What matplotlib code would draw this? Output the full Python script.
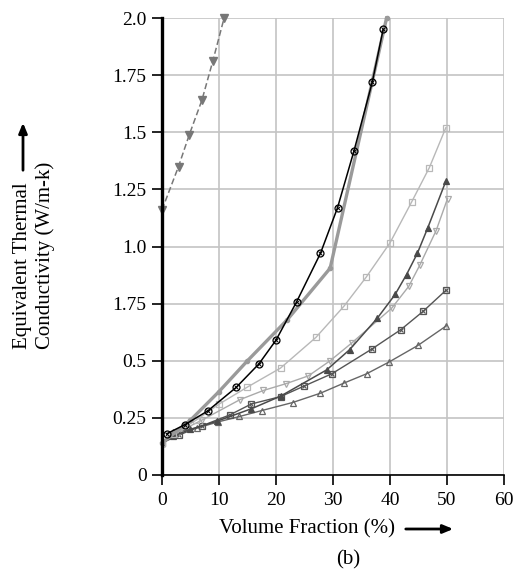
import matplotlib
matplotlib.use("Agg")
import matplotlib.pyplot as plt

plt.rcParams['font.family'] = ['Liberation Serif', 'DejaVu Serif']

# curves (volume fraction %, conductivity W/m-k)
x_steep = [0, 2.9, 4.8, 7.0, 8.9, 10.9]
y_steep = [1.16, 1.35, 1.49, 1.64, 1.81, 2.0]

x_circ = [0.8, 4, 8, 13, 17, 20, 23.6, 27.8, 30.8, 33.7, 36.9, 38.8]
y_circ = [0.18, 0.22, 0.28, 0.383, 0.486, 0.59, 0.757, 0.97, 1.17, 1.42, 1.72, 1.95]

x_thick = [0, 5, 10, 15, 22, 29.5, 39.4]
y_thick = [0.14, 0.24, 0.365, 0.50, 0.68, 0.905, 2.0]

x_lsq = [0, 2, 6, 10, 15, 20.8, 27, 31.9, 35.8, 40, 43.8, 46.9, 49.8]
y_lsq = [0.14, 0.18, 0.24, 0.31, 0.385, 0.468, 0.602, 0.738, 0.865, 1.016, 1.195, 1.345, 1.52]

x_ftri = [0, 2, 5, 9.6, 15.7, 20.8, 28.9, 32.9, 37.8, 40.9, 42.9, 44.8, 46.6, 49.8]
y_ftri = [0.14, 0.17, 0.2, 0.235, 0.29, 0.345, 0.46, 0.548, 0.687, 0.79, 0.877, 0.97, 1.08, 1.286]

x_dtri = [0, 3, 7, 13.7, 17.8, 21.8, 25.7, 29.5, 33.3, 40.3, 43.3, 45.2, 48.1, 50.1]
y_dtri = [0.14, 0.19, 0.24, 0.33, 0.37, 0.40, 0.434, 0.50, 0.578, 0.73, 0.826, 0.917, 1.07, 1.21]

x_sqx = [0, 3, 7, 11.9, 15.7, 20.8, 25, 29.8, 36.8, 41.9, 45.8, 49.8]
y_sqx = [0.14, 0.175, 0.215, 0.263, 0.311, 0.343, 0.39, 0.443, 0.551, 0.636, 0.716, 0.808]

x_otri = [0, 2, 6.1, 9.8, 13.6, 17.5, 22.9, 27.8, 31.9, 35.9, 39.8, 44.9, 49.9]
y_otri = [0.14, 0.186, 0.205, 0.232, 0.256, 0.282, 0.317, 0.358, 0.402, 0.443, 0.494, 0.567, 0.653]

yticks = [0, 0.25, 0.5, 0.75, 1.0, 1.25, 1.5, 1.75, 2.0]
ytick_labels = ['0', '0.25', '0.5', '1.75', '1.0', '1.25', '1.5', '1.75', '2.0']
xticks = [0, 10, 20, 30, 40, 50, 60]

fig = plt.figure(figsize=(5.22, 5.74), dpi=100)
ax = fig.add_axes([0.3103, 0.1725, 0.6552, 0.7961])

ms = 5
ax.plot(x_otri, y_otri, color='#666666', lw=1, marker='^', ms=ms, mfc='none', mew=0.9)
ax.plot(x_sqx, y_sqx, color='#555555', lw=1, marker='s', ms=ms, mfc='none', mew=0.9)
ax.plot(x_sqx, y_sqx, ls='none', color='#555555', marker='x', ms=3, mew=0.8)
ax.plot(x_dtri, y_dtri, color='#aaaaaa', lw=1, marker='v', ms=ms, mfc='none', mew=0.9)
ax.plot(x_ftri, y_ftri, color='#4a4a4a', lw=1.1, marker='^', ms=ms, mew=0.9)
ax.plot(x_lsq, y_lsq, color='#b8b8b8', lw=1, marker='s', ms=ms, mfc='none', mew=0.9)
ax.plot(x_thick, y_thick, color='#9a9a9a', lw=2.4, marker='o', ms=3, clip_on=False)
ax.plot(x_circ, y_circ, color='black', lw=1.1, marker='o', ms=ms, mfc='none', mew=0.9)
ax.plot(x_circ, y_circ, ls='none', color='black', marker='x', ms=3, mew=0.7)
ax.plot(x_steep, y_steep, color='#777777', lw=1.1, ls=(0, (4, 2)), marker='v', ms=ms + 1,
        clip_on=False)

ax.set_xlim(0, 60)
ax.set_ylim(0, 2.0)
ax.set_xticks(xticks)
ax.set_yticks(yticks)
ax.set_yticklabels(ytick_labels)
ax.grid(True, color='#c4c4c4', lw=1.2)
ax.set_axisbelow(True)
for s in ['top', 'right']:
    ax.spines[s].set_visible(False)
ax.spines['left'].set_linewidth(2.4)
ax.spines['bottom'].set_linewidth(1.2)
ax.tick_params(direction='out', length=7, width=1.2, labelsize=14, color='black')
ax.tick_params(axis='x', pad=5)
ax.tick_params(axis='y', pad=4)

# axis labels with arrows
fs = 15
fig.text(307 / 522, 1 - 529 / 574, 'Volume Fraction (%)', ha='center', va='center', fontsize=fs)
fig.text(348 / 522, 1 - 560 / 574, '(b)', ha='center', va='center', fontsize=fs)
fig.text(23 / 522, 1 - 349 / 574, 'Equivalent Thermal', rotation=90, ha='center', va='bottom',
         fontsize=fs)
fig.text(45 / 522, 1 - 349 / 574, 'Conductivity (W/m-k)', rotation=90, ha='center', va='bottom',
         fontsize=fs)
fig.add_artist(matplotlib.patches.FancyArrowPatch(
    (403 / 522, 1 - 529 / 574), (456 / 522, 1 - 529 / 574), transform=fig.transFigure,
    arrowstyle='-|>,head_length=6,head_width=2.5', lw=2, color='black'))
fig.add_artist(matplotlib.patches.FancyArrowPatch(
    (23 / 522, 1 - 173 / 574), (23 / 522, 1 - 120 / 574), transform=fig.transFigure,
    arrowstyle='-|>,head_length=6,head_width=2.5', lw=2, color='black'))

fig.savefig('out.png', dpi=100)
